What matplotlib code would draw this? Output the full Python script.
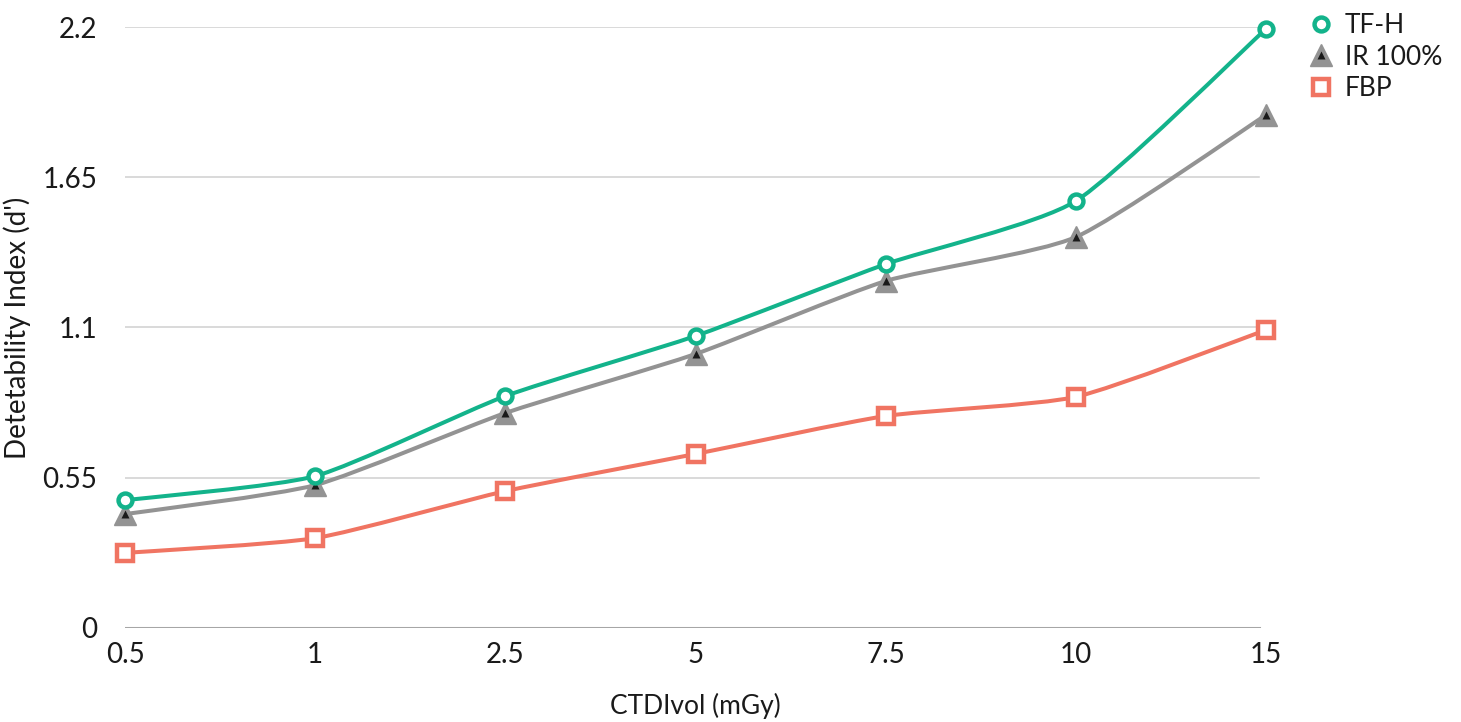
import matplotlib
matplotlib.use("Agg")
import matplotlib.pyplot as plt
from matplotlib.path import Path
from matplotlib.patches import PathPatch
from matplotlib.lines import Line2D
import numpy as np

categories = ["0.5", "1", "2.5", "5", "7.5", "10", "15"]
tf_h = [0.468, 0.556, 0.849, 1.069, 1.332, 1.563, 2.193]
ir_100 = [0.417, 0.523, 0.787, 1.003, 1.270, 1.431, 1.878]
fbp = [0.275, 0.329, 0.501, 0.637, 0.776, 0.846, 1.091]
y_ticks = [0, 0.55, 1.1, 1.65, 2.2]
y_tick_labels = ["0", "0.55", "1.1", "1.65", "2.2"]

GREEN = "#13b38b"
GRAY = "#939393"
SALMON = "#f07462"
TEXT = "#1a1a1a"

plt.rcParams["font.family"] = ["Lato", "DejaVu Sans"]


def smooth_path(xs, ys, tension=0.1):
    # bezier through the points, like a spreadsheet "smoothed line"
    pts = np.column_stack([xs, ys]).astype(float)
    ext = np.vstack([pts[0], pts, pts[-1]])
    verts = [tuple(pts[0])]
    codes = [Path.MOVETO]
    for i in range(1, len(ext) - 2):
        p0, p1, p2, p3 = ext[i - 1], ext[i], ext[i + 1], ext[i + 2]
        c1 = p1 + (p2 - p0) * tension
        c2 = p2 - (p3 - p1) * tension
        verts += [tuple(c1), tuple(c2), tuple(p2)]
        codes += [Path.CURVE4] * 3
    return Path(verts, codes)


fig = plt.figure(figsize=(14.61, 7.22), dpi=100)
ax = fig.add_axes([0.0856, 0.1302, 0.7809, 0.8324])

x = np.arange(len(categories))

for ys, color in [(fbp, SALMON), (ir_100, GRAY), (tf_h, GREEN)]:
    ax.add_patch(PathPatch(smooth_path(x, ys), facecolor="none", edgecolor=color,
                           linewidth=2.9, capstyle="round", joinstyle="round",
                           zorder=3, clip_on=False))

ax.plot(x, fbp, linestyle="none", marker="s", markersize=12, markerfacecolor="white",
        markeredgecolor=SALMON, markeredgewidth=3.2, zorder=4, clip_on=False)
ax.plot(x, ir_100, linestyle="none", marker="^", markersize=16, markerfacecolor=GRAY,
        markeredgecolor=GRAY, markeredgewidth=1, zorder=4, clip_on=False)
ax.plot(x, ir_100, linestyle="none", marker="^", markersize=6, markerfacecolor="#1a1a1a",
        markeredgecolor="none", zorder=5, clip_on=False)
ax.plot(x, tf_h, linestyle="none", marker="o", markersize=10, markerfacecolor="white",
        markeredgecolor=GREEN, markeredgewidth=3.2, zorder=6, clip_on=False)

ax.set_xlim(0, len(categories) - 1)
ax.set_ylim(0, 2.2)
ax.set_xticks(x)
ax.set_xticklabels(categories)
ax.set_yticks(y_ticks)
ax.set_yticklabels(y_tick_labels)

for yv in y_ticks[1:]:
    ax.axhline(yv, xmin=0, xmax=0.994, color="#cfcfcf", linewidth=1.1, zorder=1)
ax.axhline(0, xmin=0, xmax=0.994, color="#a6a6a6", linewidth=2.2, zorder=2)

for side in ["top", "right", "left", "bottom"]:
    ax.spines[side].set_visible(False)
ax.tick_params(axis="both", length=0, labelsize=20, colors=TEXT)
ax.tick_params(axis="x", pad=10)
ax.tick_params(axis="y", pad=20)

ax.set_xlabel("CTDIvol (mGy)", fontsize=19, color=TEXT, labelpad=18)
ax.set_ylabel("Detetability Index (d')", fontsize=20, color=TEXT, labelpad=8)

h_tf = Line2D([], [], linestyle="none", marker="o", markersize=10, markerfacecolor="white",
              markeredgecolor=GREEN, markeredgewidth=3.2)
h_ir = (Line2D([], [], linestyle="none", marker="^", markersize=16, markerfacecolor=GRAY,
               markeredgecolor=GRAY),
        Line2D([], [], linestyle="none", marker="^", markersize=6, markerfacecolor="#1a1a1a",
               markeredgecolor="none"))
h_fbp = Line2D([], [], linestyle="none", marker="s", markersize=12, markerfacecolor="white",
               markeredgecolor=SALMON, markeredgewidth=3.2)
fig.legend([h_tf, h_ir, h_fbp], ["TF-H", "IR 100%", "FBP"],
           loc="upper left", bbox_to_anchor=(0.879, 1.015), frameon=False,
           fontsize=19, handlelength=1.0, handletextpad=0.4, labelspacing=0.25,
           labelcolor=TEXT)

fig.savefig("out.png", dpi=100)
